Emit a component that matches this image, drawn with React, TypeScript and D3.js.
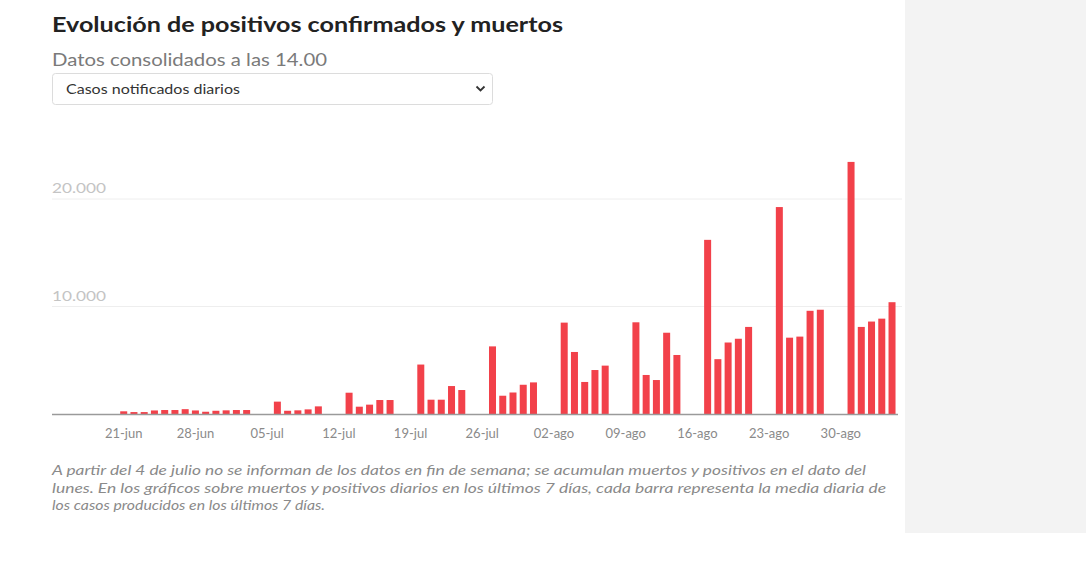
import React from 'react';
import * as d3 from 'd3';

// daily notified cases (weekends accumulated on Monday from 4 July)
const dates = [
  '2020-06-21', '2020-06-22', '2020-06-23', '2020-06-24', '2020-06-25', '2020-06-26', '2020-06-27',
  '2020-06-28', '2020-06-29', '2020-06-30', '2020-07-01', '2020-07-02', '2020-07-03',
  '2020-07-06', '2020-07-07', '2020-07-08', '2020-07-09', '2020-07-10',
  '2020-07-13', '2020-07-14', '2020-07-15', '2020-07-16', '2020-07-17',
  '2020-07-20', '2020-07-21', '2020-07-22', '2020-07-23', '2020-07-24',
  '2020-07-27', '2020-07-28', '2020-07-29', '2020-07-30', '2020-07-31',
  '2020-08-03', '2020-08-04', '2020-08-05', '2020-08-06', '2020-08-07',
  '2020-08-10', '2020-08-11', '2020-08-12', '2020-08-13', '2020-08-14',
  '2020-08-17', '2020-08-18', '2020-08-19', '2020-08-20', '2020-08-21',
  '2020-08-24', '2020-08-25', '2020-08-26', '2020-08-27', '2020-08-28',
  '2020-08-31', '2020-09-01', '2020-09-02', '2020-09-03', '2020-09-04',
];
const cases = [
  250, 180, 180, 330, 370, 370, 450,
  330, 210, 300, 340, 370, 370,
  1150, 300, 340, 430, 710,
  1980, 680, 870, 1300, 1300,
  4600, 1330, 1330, 2600, 2230,
  6290, 1700, 2000, 2720, 2940,
  8500, 5770, 2980, 4090, 4500,
  8530, 3630, 3160, 7560, 5490,
  16200, 5100, 6650, 7000, 8100,
  19250, 7100, 7200, 9600, 9700,
  23450, 8100, 8600, 8870, 10400,
];

const tickDates = [
  '2020-06-21', '2020-06-28', '2020-07-05', '2020-07-12', '2020-07-19', '2020-07-26',
  '2020-08-02', '2020-08-09', '2020-08-16', '2020-08-23', '2020-08-30',
];
const tickLabels = [
  '21-jun', '28-jun', '05-jul', '12-jul', '19-jul', '26-jul',
  '02-ago', '09-ago', '16-ago', '23-ago', '30-ago',
];
const yTicks = [10000, 20000];
const yTickLabels = ['10.000', '20.000'];

const notes = [
  'A partir del 4 de julio no se informan de los datos en fin de semana; se acumulan muertos y positivos en el dato del',
  'lunes. En los gráficos sobre muertos y positivos diarios en los últimos 7 días, cada barra representa la media diaria de',
  'los casos producidos en los últimos 7 días.',
];

const parse = d3.utcParse('%Y-%m-%d');
const font = 'Lato, "Open Sans", sans-serif';

export default function App() {
  const left = 52;
  const right = 898;
  const base = 414;

  const start = parse('2020-06-14') as Date;
  const end = d3.utcHour.offset(parse('2020-09-04') as Date, 14);
  const x = d3.scaleUtc().domain([start, end]).range([left, right]);
  const y = d3.scaleLinear().domain([0, 20000]).range([base, 199]);
  const barW = 7;

  return (
    <div style={{ position: 'absolute', left: 0, top: 0 }}>
      <svg width={1086} height={576} style={{ display: 'block', fontFamily: font }}>
        <rect x={0} y={0} width={1086} height={576} fill="#fff" />
        <rect x={905} y={0} width={181} height={533} fill="#f3f3f3" />

        <text x={52} y={32} fontSize={20} fontWeight={700} fill="#222"
          textLength={511} lengthAdjust="spacingAndGlyphs">
          Evolución de positivos confirmados y muertos
        </text>
        <text x={52} y={66} fontSize={17} fill="#7a7a7a" textLength={275} lengthAdjust="spacingAndGlyphs">
          Datos consolidados a las 14.00
        </text>

        <rect x={52.5} y={73.5} width={440} height={31} rx={3} fill="#fff" stroke="#dcdcdc" />
        <text x={66} y={94} fontSize={13} fill="#333" textLength={174} lengthAdjust="spacingAndGlyphs">
          Casos notificados diarios
        </text>
        <path d="M476.5,86.5 L480.5,90.5 L484.5,86.5" fill="none" stroke="#333" strokeWidth={1.8} />

        {yTicks.map((t, i) => (
          <g key={t}>
            <line x1={left} x2={902} y1={y(t)} y2={y(t)} stroke="#eeeeee" strokeWidth={1} />
            <text x={left} y={y(t) - 6} fontSize={14} fill="#c4c4c4" textLength={54} lengthAdjust="spacingAndGlyphs">
              {yTickLabels[i]}
            </text>
          </g>
        ))}

        {dates.map((d, i) => {
          const cx = x(parse(d) as Date);
          return (
            <rect key={d} x={cx - barW / 2} y={y(cases[i])} width={barW}
              height={base - y(cases[i])} fill="#f2414a" />
          );
        })}

        <line x1={left} x2={right} y1={base + 0.5} y2={base + 0.5} stroke="#9a9a9a" strokeWidth={1.5} />

        {tickDates.map((d, i) => (
          <text key={d} x={x(parse(d) as Date)} y={438} fontSize={13} fill="#8a8a8a" textAnchor="middle">
            {tickLabels[i]}
          </text>
        ))}

        {notes.map((n, i) => (
          <text key={i} x={52} y={475 + i * 17.5} fontSize={13} fontStyle="italic" fill="#8a8a8a"
            textLength={[814, 834, 273][i]} lengthAdjust="spacingAndGlyphs">
            {n}
          </text>
        ))}
      </svg>
    </div>
  );
}
